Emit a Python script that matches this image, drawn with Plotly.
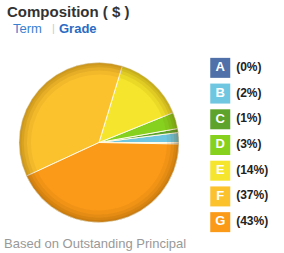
import plotly.graph_objects as go

grades = ["A", "B", "C", "D", "E", "F", "G"]
values = [0.3, 2.0, 0.8, 3.3, 14.2, 36.6, 42.8]
colors = ["#4f70a8", "#6ec6e0", "#5ea32c", "#86d01e", "#f5e52c", "#fcc22e", "#fb9a18"]

title_text = "Composition ( $ )"
footer_text = "Based on Outstanding Principal"

total = sum(values)
pct_labels = ["(%d%%)" % round(v / total * 100) for v in values]

W, H = 284, 253
pie_dom_x = [19 / W, 179 / W]
pie_dom_y = [(H - 223) / H, (H - 62) / H]

fig = go.Figure()

fig.add_trace(go.Pie(
    labels=grades, values=values, sort=False, direction="counterclockwise",
    rotation=90, marker=dict(colors=colors, line=dict(color="#fffbe8", width=1)),
    textinfo="none", hoverinfo="label+percent", showlegend=False,
    domain=dict(x=pie_dom_x, y=pie_dom_y),
))
# rim shading rings
for hole, alpha in [(0.85, 0.07), (0.90, 0.09), (0.94, 0.11), (0.97, 0.10)]:
    fig.add_trace(go.Pie(
        labels=grades, values=values, sort=False, direction="counterclockwise",
        rotation=90, hole=hole,
        marker=dict(colors=["rgba(110,70,0,%s)" % alpha] * len(values), line=dict(width=0)),
        textinfo="none", hoverinfo="skip", showlegend=False,
        domain=dict(x=pie_dom_x, y=pie_dom_y),
    ))

# legend as scatter
ypos = list(range(len(grades)))
fig.add_trace(go.Scatter(
    x=[0] * len(grades), y=ypos, mode="markers+text",
    marker=dict(symbol="square", size=20, color=colors, line=dict(width=0)),
    text=["<b>%s</b>" % g for g in grades], textposition="middle center",
    textfont=dict(family="Arial", size=13, color="white"),
    hoverinfo="skip", showlegend=False, xaxis="x", yaxis="y",
))
fig.add_trace(go.Scatter(
    x=[0.75] * len(grades), y=ypos, mode="text",
    text=["<b>%s</b>" % t for t in pct_labels], textposition="middle right",
    textfont=dict(family="Arial", size=12, color="#222222"),
    hoverinfo="skip", showlegend=False, xaxis="x", yaxis="y",
))

fig.update_layout(
    width=W, height=H, margin=dict(l=0, r=0, t=0, b=0),
    paper_bgcolor="white", plot_bgcolor="white",
    xaxis=dict(domain=[199 / W, 1], range=[-1, 3], visible=False, fixedrange=True),
    yaxis=dict(domain=[(H - 235) / H, (H - 55) / H], range=[6.5, -0.5], visible=False, fixedrange=True),
    annotations=[
        dict(text="<b>" + title_text + "</b>", x=5 / W, y=1 - 12 / H, xref="paper", yref="paper",
             xanchor="left", yanchor="middle", showarrow=False,
             font=dict(family="Arial", size=15, color="#333333")),
        dict(text="Term", x=11 / W, y=1 - 28 / H, xref="paper", yref="paper",
             xanchor="left", yanchor="middle", showarrow=False,
             font=dict(family="Arial", size=13, color="#3a7fd0")),
        dict(text="|", x=50 / W, y=1 - 28 / H, xref="paper", yref="paper",
             xanchor="left", yanchor="middle", showarrow=False,
             font=dict(family="Arial", size=11, color="#cccccc")),
        dict(text="<b>Grade</b>", x=57 / W, y=1 - 28 / H, xref="paper", yref="paper",
             xanchor="left", yanchor="middle", showarrow=False,
             font=dict(family="Arial", size=13, color="#2a6cc4")),
        dict(text=footer_text, x=2 / W, y=1 - 243 / H, xref="paper", yref="paper",
             xanchor="left", yanchor="middle", showarrow=False,
             font=dict(family="Arial", size=13, color="#999999")),
    ],
)

fig.write_html("out.html")
